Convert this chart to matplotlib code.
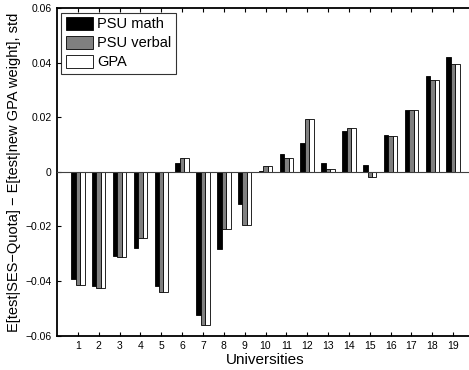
import numpy as np
import matplotlib
matplotlib.use("Agg")
import matplotlib.pyplot as plt

plt.rcParams["font.family"] = ["Liberation Sans", "DejaVu Sans"]

universities = list(range(1, 20))
psu_math = [-0.0394, -0.0420, -0.0308, -0.0279, -0.0420, 0.0031, -0.0524, -0.0282, -0.0116, 0.0003,
            0.0064, 0.0104, 0.0033, 0.0151, 0.0025, 0.0135, 0.0225, 0.0351, 0.0420]
psu_verbal = [-0.0415, -0.0424, -0.0312, -0.0241, -0.0439, 0.0049, -0.0563, -0.0211, -0.0195, 0.0020,
              0.0049, 0.0193, 0.0010, 0.0160, -0.0018, 0.0132, 0.0225, 0.0338, 0.0397]
gpa = [-0.0415, -0.0424, -0.0312, -0.0241, -0.0439, 0.0049, -0.0563, -0.0211, -0.0195, 0.0020,
       0.0049, 0.0193, 0.0010, 0.0160, -0.0018, 0.0132, 0.0225, 0.0338, 0.0397]
series_names = ["PSU math", "PSU verbal", "GPA"]
yticks = [-0.06, -0.04, -0.02, 0, 0.02, 0.04, 0.06]
ytick_labels = ["\u22120.06", "\u22120.04", "\u22120.02", "0", "0.02", "0.04", "0.06"]

fig = plt.figure(figsize=(4.69, 3.70), dpi=100)
ax = fig.add_axes([0.1215, 0.0930, 0.8892, 0.8850])

x = np.array(universities, dtype=float)
w = 0.215
colors = ["black", "#808080", "white"]
for i, (vals, name) in enumerate(zip([psu_math, psu_verbal, gpa], series_names)):
    ax.bar(x + (i - 1) * w, vals, width=w, color=colors[i], edgecolor="black",
           linewidth=0.6, label=name, zorder=2)

ax.axhline(0, color="#404040", linewidth=0.8, zorder=3)

ax.set_xlim(0, 20)
ax.set_ylim(-0.06, 0.06)
ax.set_xticks(universities)
ax.set_xticklabels([str(u) for u in universities], fontsize=7.5)
ax.set_yticks(yticks)
ax.set_yticklabels(ytick_labels, fontsize=7.5)
ax.tick_params(direction="in", length=3, width=0.8, top=True, right=False, pad=4)
ax.spines["right"].set_visible(False)
for s in ax.spines.values():
    s.set_linewidth(1.3)

ax.set_xlabel("Universities", fontsize=11, labelpad=1)
ax.set_ylabel("E[test|SES\u2212Quota] \u2212 E[test|new GPA weight], std", fontsize=10.5, labelpad=3)

leg = ax.legend(loc="upper left", fontsize=10.5, frameon=True, fancybox=False,
                edgecolor="black", borderpad=0.3, handlelength=1.9, handleheight=1.0,
                handletextpad=0.25, labelspacing=0.3, borderaxespad=0.3)
leg.get_frame().set_linewidth(0.8)

fig.savefig("out.png", dpi=100)
